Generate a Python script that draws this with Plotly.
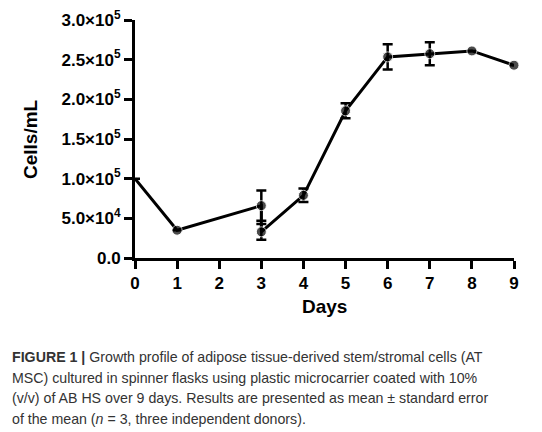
import plotly.graph_objects as go

# growth curve (day 3 has two readings: before / after medium change)
days = [0, 1, 3, 3, 4, 5, 6, 7, 8, 9]
cells = [100000, 35000, 66000, 33000, 79000, 185500, 253500, 257500, 261000, 243000]
sem = [None, None, 19000, 10000, 8500, 9500, 16000, 14500, None, None]

y_ticks = [0, 50000, 100000, 150000, 200000, 250000, 300000]
y_labels = ["0.0", "5.0×10<sup>4</sup>", "1.0×10<sup>5</sup>", "1.5×10<sup>5</sup>",
            "2.0×10<sup>5</sup>", "2.5×10<sup>5</sup>", "3.0×10<sup>5</sup>"]

caption_lines = [
    "<b>FIGURE 1 |</b> Growth profile of adipose tissue-derived stem/stromal cells (AT",
    "MSC) cultured in spinner flasks using plastic microcarrier coated with 10%",
    "(v/v) of AB HS over 9 days. Results are presented as mean ± standard error",
    "of the mean (<i>n</i> = 3, three independent donors).",
]

fig = go.Figure()
fig.add_trace(go.Scatter(
    x=days, y=cells, mode="lines+markers",
    line=dict(color="black", width=3),
    marker=dict(color="black", size=[0] + [10] * (len(days) - 1)),
    error_y=dict(type="data", array=sem, visible=True, color="black",
                 thickness=2.5, width=5),
    cliponaxis=False, showlegend=False,
))

axis_font = dict(family="Liberation Sans", size=17, color="black")
fig.update_xaxes(range=[0, 9], tickvals=list(range(10)),
                 ticktext=["<b>%d</b>" % d for d in range(10)],
                 showline=True, linecolor="black", linewidth=3,
                 ticks="outside", ticklen=8, tickwidth=3, tickcolor="black",
                 showgrid=False, zeroline=False, tickfont=axis_font,
                 automargin=False, ticklabeloverflow="allow")
fig.update_yaxes(range=[0, 300000], tickvals=y_ticks,
                 ticktext=["<b>%s</b>" % t for t in y_labels],
                 showline=True, linecolor="black", linewidth=3,
                 ticks="outside", ticklen=8, tickwidth=3, tickcolor="black",
                 showgrid=False, zeroline=False, tickfont=axis_font,
                 automargin=False, ticklabeloverflow="allow")

fig.add_annotation(text="<b>Days</b>", xref="paper", yref="paper", x=0.5, y=-0.204,
                   xanchor="center", yanchor="middle", showarrow=False,
                   font=dict(family="Liberation Sans", size=19, color="black"))
fig.add_annotation(text="<b>Cells/mL</b>", xref="paper", yref="paper", x=-0.277, y=0.5,
                   xanchor="center", yanchor="middle", textangle=-90, showarrow=False,
                   font=dict(family="Liberation Sans", size=19, color="black"))
for i, line in enumerate(caption_lines):
    fig.add_annotation(text=line, xref="paper", yref="paper", x=-0.330, y=-0.418 - 0.0855 * i,
                       xanchor="left", yanchor="middle", align="left", showarrow=False,
                       font=dict(family="Liberation Sans", size=14.2, color="#333333"))

# page body adds an 8px offset, so margins are trimmed to keep the plot in place
fig.update_layout(width=542, height=432, margin=dict(l=127, r=36, t=12, b=182),
                  paper_bgcolor="white", plot_bgcolor="white")
fig.write_html("out.html")
